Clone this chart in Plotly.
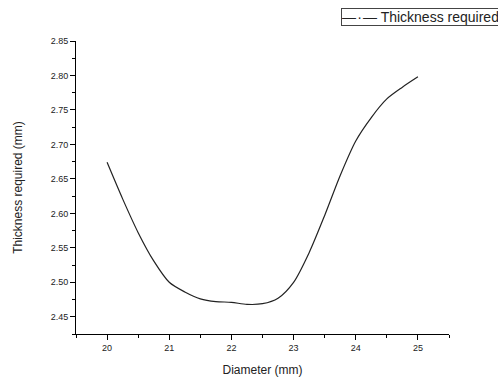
import plotly.graph_objects as go

diameter = [20, 20.25, 20.5, 20.75, 21, 21.25, 21.5, 21.75, 22, 22.25, 22.5,
            22.75, 23, 23.25, 23.5, 23.75, 24, 24.25, 24.5, 24.75, 25]
thickness = [2.674, 2.621, 2.572, 2.531, 2.500, 2.486, 2.476, 2.472, 2.471, 2.468, 2.469,
             2.477, 2.500, 2.543, 2.597, 2.655, 2.705, 2.739, 2.766, 2.783, 2.798]
series_name = "Thickness required"
x_title = "Diameter (mm)"
y_title = "Thickness required (mm)"

fig = go.Figure()
fig.add_trace(go.Scatter(x=diameter, y=thickness, mode="lines", name=series_name,
                         line=dict(color="#222222", width=1.2, shape="spline", smoothing=0.8),
                         showlegend=False))

axis_font = dict(family="Liberation Sans, Arial, sans-serif", size=9, color="#222222")
fig.update_layout(
    width=498, height=377,
    margin=dict(l=76, r=49, t=41, b=43),
    paper_bgcolor="white", plot_bgcolor="white",
    font=dict(family="Liberation Sans, Arial, sans-serif", color="#222222"),
    xaxis=dict(range=[19.5, 25.5], tick0=20, dtick=1, ticks="outside", ticklen=5,
               tickwidth=1, tickcolor="black", showline=True, linecolor="black",
               linewidth=1, showgrid=False, zeroline=False, tickfont=axis_font,
               automargin=False,
               minor=dict(dtick=0.5, tick0=19.5, ticks="outside", ticklen=3, tickcolor="black",
                          showgrid=False),
               title=dict(text=x_title, font=dict(size=12, color="#222222"), standoff=15)),
    yaxis=dict(range=[2.425, 2.85], tick0=2.45, dtick=0.05, tickformat=".2f",
               ticks="outside", ticklen=5, tickwidth=1, tickcolor="black",
               showline=True, linecolor="black", linewidth=1, showgrid=False,
               zeroline=False, tickfont=axis_font, automargin=False,
               minor=dict(dtick=0.025, tick0=2.425, ticks="outside", ticklen=3,
                          tickcolor="black", showgrid=False),
               title=dict(text=y_title, font=dict(size=12, color="#222222"), standoff=25)),
)

fig.add_annotation(xref="paper", yref="paper", x=(341 - 76) / 373, y=1 + (41 - 8) / 293,
                   xanchor="left", yanchor="top", showarrow=False, align="left",
                   width=170,
                   text="\u2014\u200a\u00b7\u200a\u2014 " + series_name,
                   font=dict(family="Liberation Sans, Arial, sans-serif", size=14, color="#222222"),
                   bordercolor="#444444", borderwidth=1, borderpad=0, bgcolor="white")

fig.write_html("out.html", config={"displayModeBar": False},
               post_script="document.body.style.margin='0';document.body.style.overflow='hidden';")
